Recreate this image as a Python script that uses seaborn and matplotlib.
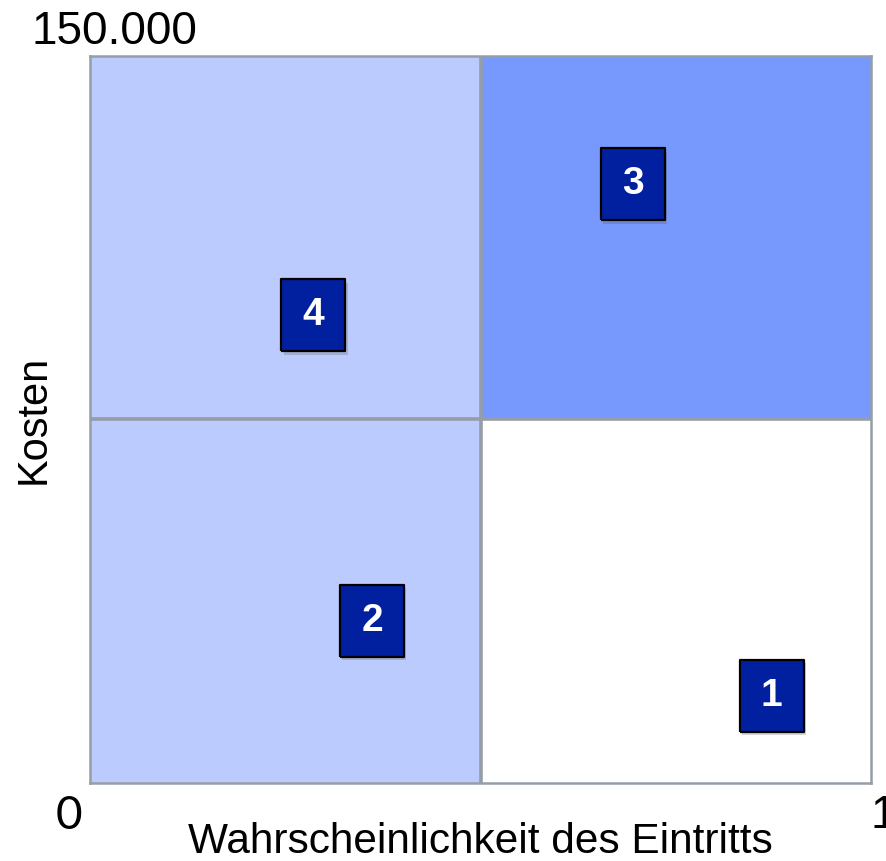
import numpy as np
import pandas as pd
import seaborn as sns
import matplotlib.pyplot as plt

# risk items: probability (0..1) and cost
labels = ['1', '2', '3', '4']
prob = [0.873, 0.361, 0.695, 0.286]
cost = [18000, 33500, 123500, 96500]

# quadrant boundaries and fill colours
x_split = 0.5
y_split = 75000
x_max = 1.0
y_max = 150000
quad_colors = {'low_low': '#BBCBFE', 'high_low': '#FFFFFF',
               'low_high': '#BBCBFE', 'high_high': '#7799FE'}

df = pd.DataFrame({'id': labels, 'prob': prob, 'cost': cost})

sns.set_style('white')
plt.rcParams['font.family'] = ['Liberation Sans', 'DejaVu Sans']
plt.rcParams['text.color'] = 'black'
plt.rcParams['axes.labelcolor'] = 'black'

fig = plt.figure(figsize=(8.86, 8.61), dpi=100)
ax = fig.add_axes([0.1016, 0.0906, 0.8815, 0.8444])

# quadrants
ax.fill_between([0, x_split], 0, y_split, color=quad_colors['low_low'], lw=0)
ax.fill_between([x_split, x_max], 0, y_split, color=quad_colors['high_low'], lw=0)
ax.fill_between([0, x_split], y_split, y_max, color=quad_colors['low_high'], lw=0)
ax.fill_between([x_split, x_max], y_split, y_max, color=quad_colors['high_high'], lw=0)
ax.axvline(x_split, color='#959DA8', lw=2.6)
ax.axhline(y_split, color='#959DA8', lw=2.6)

# rectangular markers (slightly taller than wide) with a faint shadow
box = [(-0.44, -0.5), (0.44, -0.5), (0.44, 0.5), (-0.44, 0.5), (-0.44, -0.5)]
shadow = df.assign(prob=df['prob'] + 0.003, cost=df['cost'] - 700)
sns.scatterplot(data=shadow, x='prob', y='cost', marker=box, s=2700,
                color='#555555', alpha=0.25, linewidth=0, ax=ax, zorder=4)
sns.scatterplot(data=df, x='prob', y='cost', marker=box, s=2680,
                color='#00209F', edgecolor='black', linewidth=1.6, ax=ax, zorder=5)
for _, r in df.iterrows():
    ax.text(r['prob'], r['cost'], r['id'], color='white', fontsize=28,
            fontweight='bold', ha='center', va='center', zorder=6)

ax.set_xlim(0, x_max)
ax.set_ylim(0, y_max)
ax.set_xticks([])
ax.set_yticks([])
for s in ax.spines.values():
    s.set_color('#959DA8')
    s.set_linewidth(1.8)

ax.set_xlabel('Wahrscheinlichkeit des Eintritts', fontsize=30.5, labelpad=28)
ax.set_ylabel('Kosten', fontsize=30, labelpad=26)

# axis end labels
ax.text(0.031, 1.033, '150.000', transform=ax.transAxes, fontsize=33,
        ha='center', va='center', clip_on=False)
ax.text(-0.027, -0.045, '0', transform=ax.transAxes, fontsize=33,
        family=['Lato', 'DejaVu Sans'], ha='center', va='center', clip_on=False)
ax.text(0.999, -0.045, '1', transform=ax.transAxes, fontsize=33,
        ha='left', va='center', clip_on=False)

fig.savefig('out.png', dpi=100)
